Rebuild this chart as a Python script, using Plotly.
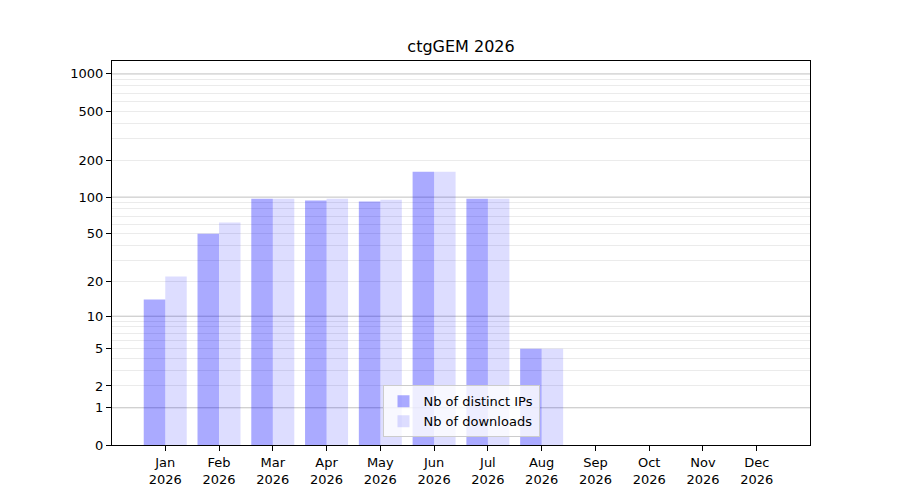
import plotly.graph_objects as go

# Valores.
YEAR = 2026
MONTHS = ["Jan", "Feb", "Mar", "Apr", "May", "Jun", "Jul", "Aug", "Sep", "Oct", "Nov", "Dec"]
DISTINCT_IPS = [14, 50, 97, 94, 92, 161, 97, 5, 0, 0, 0, 0]
DOWNLOADS = [22, 62, 97, 97, 95, 161, 97, 5, 0, 0, 0, 0]

# Marcas del eje y (escala log(1 + x)).
Y_TICKS = [0, 1, 2, 5, 10, 20, 50, 100, 200, 500, 1000]
MAJOR_GRID = [1, 10, 100, 1000]
MINOR_GRID = [m * d for d in (1, 10, 100) for m in range(2, 10)]


def main():
    labels = [f"{m}<br>{YEAR}" for m in MONTHS]

    fig = go.Figure()

    fig.add_trace(
        go.Bar(
            x=labels,
            y=[v + 1 for v in DISTINCT_IPS],
            customdata=DISTINCT_IPS,
            hovertemplate="%{customdata}<extra></extra>",
            name="Nb of distinct IPs",
            marker_color="rgba(0,0,255,0.333)",
            marker_line_width=0,
        )
    )

    fig.add_trace(
        go.Bar(
            x=labels,
            y=[v + 1 for v in DOWNLOADS],
            customdata=DOWNLOADS,
            hovertemplate="%{customdata}<extra></extra>",
            name="Nb of downloads",
            marker_color="rgba(0,0,255,0.133)",
            marker_line_width=0,
        )
    )

    fig.update_xaxes(
        range=[-0.99, len(MONTHS) - 0.01],
        ticks="outside",
        ticklen=5,
        tickcolor="black",
        showgrid=False,
        showline=True,
        linecolor="black",
        linewidth=1,
        mirror=True,
        zeroline=False,
    )

    fig.update_yaxes(
        type="log",
        range=[0, 3.105],
        tickvals=[v + 1 for v in Y_TICKS],
        ticktext=[str(v) for v in Y_TICKS],
        ticks="outside",
        ticklen=5,
        tickcolor="black",
        showgrid=False,
        showline=True,
        linecolor="black",
        linewidth=1,
        mirror=True,
        zeroline=False,
        minor=dict(
            tickvals=[v + 1 for v in MINOR_GRID],
            showgrid=True,
            gridcolor="#ebebeb",
            gridwidth=1,
            ticks="",
        ),
    )

    # Líneas de la cuadrícula principal.
    for v in MAJOR_GRID:
        fig.add_shape(
            type="line",
            xref="paper",
            yref="y",
            x0=0,
            x1=1,
            y0=v + 1,
            y1=v + 1,
            line_color="#c0c0c0",
            line_width=1,
            layer="below",
        )

    # La página añade 8 px de margen, los descontamos aquí.
    fig.update_layout(
        width=900,
        height=500,
        barmode="group",
        bargap=0.2,
        bargroupgap=0,
        font_family="DejaVu Sans",
        font_color="black",
        font_size=13,
        title_text=f"ctgGEM {YEAR}",
        title_font_size=16,
        title_x=0.5,
        title_xref="paper",
        title_xanchor="center",
        title_y=1 - 38 / 500,
        title_yanchor="middle",
        margin_t=53,
        margin_l=104,
        margin_r=98,
        margin_b=63,
        plot_bgcolor="white",
        paper_bgcolor="white",
        legend=dict(
            x=0.5,
            xanchor="center",
            y=0.02,
            yanchor="bottom",
            bgcolor="rgba(255,255,255,0.8)",
            bordercolor="#cccccc",
            borderwidth=1,
            font_size=13,
        ),
    )

    fig.write_html("out.html")


if __name__ == "__main__":
    main()
